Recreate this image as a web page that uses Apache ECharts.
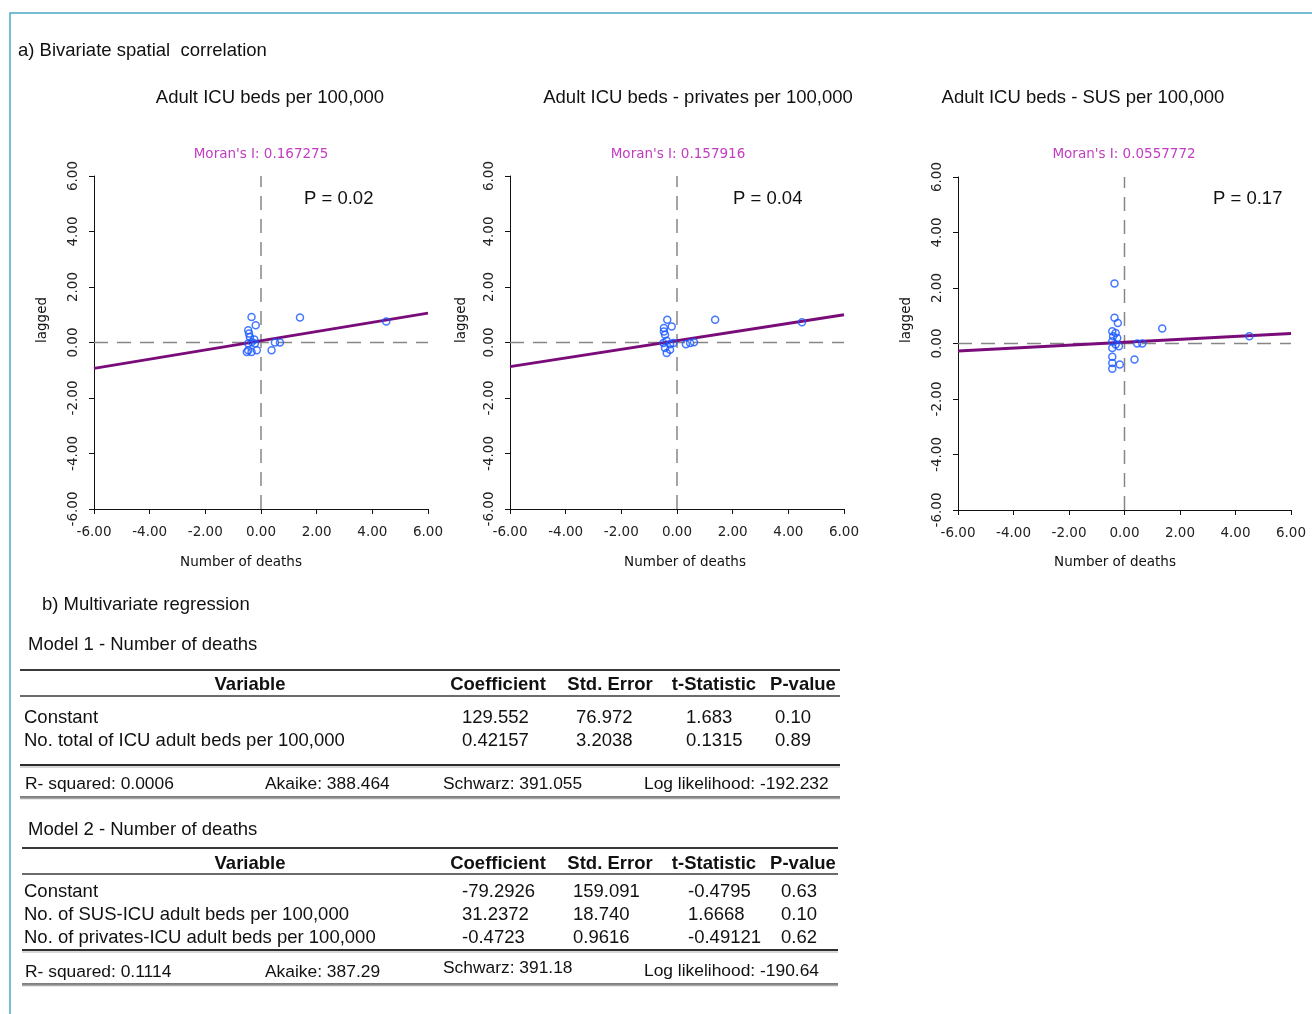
<!DOCTYPE html>
<html>
<head>
<meta charset="utf-8">
<script src="https://cdn.jsdelivr.net/npm/echarts@6/dist/echarts.min.js"></script>
<style>
html,body{margin:0;padding:0;background:#fff;}
#chart{width:1312px;height:1014px;}
</style>
</head>
<body>
<div id="chart"></div>
<script>
// ---------- DATA ----------
const sectionA = 'a) Bivariate spatial  correlation';
const sectionB = 'b) Multivariate regression';
const plotTitles = ['Adult ICU beds per 100,000', 'Adult ICU beds - privates per 100,000', 'Adult ICU beds - SUS per 100,000'];
const moranValues = ['0.167275', '0.157916', '0.0557772'];
const pValues = ['0.02', '0.04', '0.17'];
const xAxisName = 'Number of deaths';
const yAxisName = 'lagged';

const points1 = [
  [-0.34, 0.92], [-0.19, 0.62], [-0.46, 0.44], [-0.43, 0.32], [-0.40, 0.20],
  [-0.24, 0.11], [-0.33, 0.02], [-0.46, -0.04], [-0.22, -0.04], [-0.46, -0.28],
  [-0.34, -0.34], [-0.15, -0.28], [-0.51, -0.34], [0.38, -0.28], [0.50, 0.00],
  [0.68, 0.00], [1.40, 0.90], [4.50, 0.76]
];
const points2 = [
  [-0.35, 0.82], [-0.19, 0.58], [-0.47, 0.52], [-0.47, 0.40], [-0.43, 0.28],
  [-0.37, 0.06], [-0.49, -0.02], [-0.25, -0.06], [-0.13, -0.02], [-0.43, -0.20],
  [-0.25, -0.26], [-0.37, -0.38], [0.32, -0.06], [0.47, -0.02], [0.61, 0.01],
  [1.37, 0.82], [4.49, 0.73]
];
const points3 = [
  [-0.36, 2.16], [-0.36, 0.93], [-0.24, 0.74], [-0.44, 0.44], [-0.32, 0.38],
  [-0.41, 0.26], [-0.26, 0.20], [-0.44, 0.08], [-0.32, -0.04], [-0.44, -0.16],
  [-0.20, -0.10], [-0.44, -0.48], [-0.44, -0.70], [-0.17, -0.76], [-0.44, -0.91],
  [0.46, 0.00], [0.64, 0.00], [0.36, -0.58], [1.36, 0.54], [4.50, 0.26]
];
const fit1 = [[-6, -0.93], [6, 1.06]];
const fit2 = [[-6, -0.87], [6, 1.00]];
const fit3 = [[-6, -0.27], [6, 0.36]];
const refVertical = [[0, -6], [0, 6]];
const refHorizontal = [[-6, 0], [6, 0]];
const axisMin = -6, axisMax = 6, axisStep = 2;

const tableHeader = ['Variable', 'Coefficient', 'Std. Error', 't-Statistic', 'P-value'];
const model1Title = 'Model 1 - Number of deaths';
const model1Vars = ['Constant', 'No. total of ICU adult beds per 100,000'];
const model1Coef = ['129.552', '0.42157'];
const model1SE = ['76.972', '3.2038'];
const model1T = ['1.683', '0.1315'];
const model1P = ['0.10', '0.89'];
const model1Stats = ['R- squared: 0.0006', 'Akaike: 388.464', 'Schwarz: 391.055', 'Log likelihood: -192.232'];

const model2Title = 'Model 2 - Number of deaths';
const model2Vars = ['Constant', 'No. of SUS-ICU adult beds per 100,000', 'No. of privates-ICU adult beds per 100,000'];
const model2Coef = ['-79.2926', '31.2372', '-0.4723'];
const model2SE = ['159.091', '18.740', '0.9616'];
const model2T = ['-0.4795', '1.6668', '-0.49121'];
const model2P = ['0.63', '0.10', '0.62'];
const model2Stats = ['R- squared: 0.1114', 'Akaike: 387.29', 'Schwarz: 391.18', 'Log likelihood: -190.64'];

// ---------- LAYOUT / STYLE ----------
const SANS = '"Liberation Sans", Arial, sans-serif';
const VERD = '"DejaVu Sans", Verdana, sans-serif';
const grids = [
  {left: 94, top: 176, width: 334, height: 333},
  {left: 510, top: 176, width: 334, height: 333},
  {left: 958, top: 177, width: 333, height: 333}
];
const titleX = [270, 698, 1083];
const moranX = [261, 678, 1124];
const pX = [304, 733, 1213];
const laggedX = [42, 461, 906];
const xNameX = [241, 685, 1115];
const pointSets = [points1, points2, points3];
const fits = [fit1, fit2, fit3];
const DY = 2; // vertical text offset

const chart = echarts.init(document.getElementById('chart'), null, {renderer: 'canvas'});

const xAxes = [], yAxes = [], series = [];
grids.forEach((g, i) => {
  const axisCommon = {
    gridIndex: i, min: axisMin, max: axisMax, interval: axisStep,
    axisLine: {show: true, onZero: false, lineStyle: {color: '#111', width: 1}},
    axisTick: {show: true, length: 5, lineStyle: {color: '#111', width: 1}},
    splitLine: {show: false},
    axisLabel: {
      formatter: v => v.toFixed(2), color: '#222',
      fontFamily: VERD, fontSize: 13.5, showMinLabel: true, showMaxLabel: true
    }
  };
  xAxes.push(Object.assign({}, axisCommon, {type: 'value', position: 'bottom',
    axisLabel: Object.assign({}, axisCommon.axisLabel, {margin: 16})}));
  yAxes.push(Object.assign({}, axisCommon, {type: 'value', position: 'left',
    axisLabel: Object.assign({}, axisCommon.axisLabel, {rotate: 90, margin: 14})}));
  const dash = {color: '#868686', width: 1.5, type: [14, 9]};
  series.push({type: 'line', xAxisIndex: i, yAxisIndex: i, data: refVertical, symbol: 'none',
    lineStyle: dash, silent: true, z: 1, animation: false});
  series.push({type: 'line', xAxisIndex: i, yAxisIndex: i, data: refHorizontal, symbol: 'none',
    lineStyle: dash, silent: true, z: 1, animation: false});
  series.push({type: 'line', xAxisIndex: i, yAxisIndex: i, data: fits[i], symbol: 'none',
    lineStyle: {color: '#7a0c7a', width: 2.8}, silent: true, z: 2, animation: false});
  series.push({type: 'scatter', xAxisIndex: i, yAxisIndex: i, data: pointSets[i], symbol: 'circle',
    symbolSize: 7, itemStyle: {color: 'rgba(0,0,0,0)', borderColor: '#1656ff', borderWidth: 1.5},
    z: 3, animation: false});
});

const graphics = [];
function txt(x, y, text, opts) {
  opts = opts || {};
  graphics.push({
    type: 'text', x: x, y: y + (opts.rotation ? 0 : DY), rotation: opts.rotation || 0, silent: true,
    style: {
      text: text, fill: opts.color || '#111', font: (opts.weight || 'normal') + ' ' + (opts.size || 18.5) + 'px ' + (opts.family || SANS),
      textAlign: opts.align || 'left', textVerticalAlign: 'middle'
    }
  });
}
function hline(x1, x2, y, w, c) {
  graphics.push({type: 'line', silent: true, shape: {x1: x1, y1: y, x2: x2, y2: y}, style: {stroke: c, lineWidth: w}});
}

// frame
graphics.push({type: 'polyline', silent: true, shape: {points: [[10, 1014], [10, 13], [1312, 13]]},
  style: {stroke: '#4ba6c3', lineWidth: 1.5, fill: null}});

txt(18, 49, sectionA);
plotTitles.forEach((t, i) => {
  txt(titleX[i], 96, t, {align: 'center'});
  txt(moranX[i], 152.5, "Moran's I: " + moranValues[i], {align: 'center', color: '#c23cc2', size: 13.5, family: VERD});
  txt(pX[i], 197, 'P = ' + pValues[i]);
  txt(laggedX[i], 320, yAxisName, {align: 'center', size: 13.5, family: VERD, rotation: Math.PI / 2});
  txt(xNameX[i], 560, xAxisName, {align: 'center', size: 13.5, family: VERD});
});

txt(42, 603, sectionB);

function drawTable(cfg) {
  txt(28, cfg.titleY, cfg.title);
  hline(cfg.x1, cfg.x2, cfg.top, 2, '#3a3a3a');
  const hx = [250, 498, 610, 714, 803];
  tableHeader.forEach((h, j) => txt(hx[j], cfg.headerY, h, {align: 'center', weight: 'bold'}));
  hline(cfg.x1, cfg.x2, cfg.headerLine, 1.6, '#3a3a3a');
  cfg.vars.forEach((v, r) => {
    const y = cfg.rowY[r];
    txt(24, y, v);
    txt(cfg.colX[0], y, cfg.coef[r]);
    txt(cfg.colX[1], y, cfg.se[r]);
    txt(cfg.colX[2], y, cfg.t[r]);
    txt(cfg.colX[3], y, cfg.p[r]);
  });
  hline(cfg.x1, cfg.x2, cfg.midLine, 2, '#2e2e2e');
  hline(cfg.x1, cfg.x2, cfg.midLine + 2, 1, '#b0b0b0');
  const sx = [25, 265, 443, 644];
  cfg.stats.forEach((s, j) => txt(sx[j], cfg.statY[j], s, {size: 17.4}));
  hline(cfg.x1, cfg.x2, cfg.bottom, 1.5, '#555');
  hline(cfg.x1, cfg.x2, cfg.bottom + 1.5, 1.5, '#a8a8a8');
}

drawTable({title: model1Title, titleY: 643, x1: 20, x2: 840, top: 670, headerY: 683, headerLine: 696,
  vars: model1Vars, coef: model1Coef, se: model1SE, t: model1T, p: model1P, rowY: [716, 739],
  colX: [462, 576, 686, 775], midLine: 765, stats: model1Stats, statY: [782, 782, 782, 782], bottom: 797});
drawTable({title: model2Title, titleY: 828, x1: 22, x2: 838, top: 848, headerY: 862, headerLine: 874,
  vars: model2Vars, coef: model2Coef, se: model2SE, t: model2T, p: model2P, rowY: [890, 913, 936],
  colX: [462, 573, 688, 781], midLine: 950, stats: model2Stats, statY: [970, 970, 966, 969], bottom: 984});

chart.setOption({
  backgroundColor: '#fff',
  animation: false,
  grid: grids,
  xAxis: xAxes,
  yAxis: yAxes,
  series: series,
  graphic: graphics
});
</script>
</body>
</html>
